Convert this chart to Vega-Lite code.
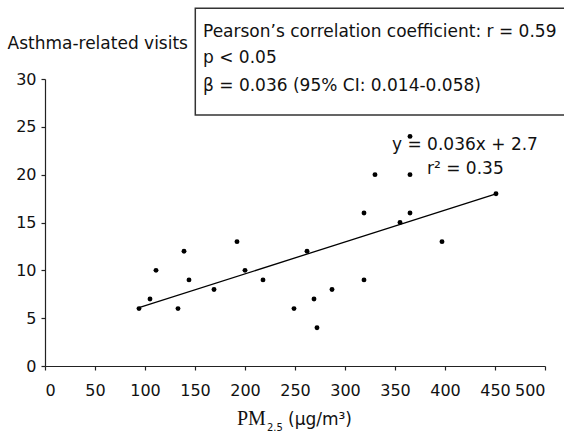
{
  "$schema": "https://vega.github.io/schema/vega-lite/v6.json",
  "width": 500,
  "height": 287,
  "autosize": {"type": "none"},
  "padding": {"left": 45, "top": 79, "right": 19, "bottom": 66},
  "background": "white",
  "config": {
    "view": {"stroke": null},
    "font": "DejaVu Sans",
    "axis": {"grid": false, "domainColor": "#222", "tickColor": "#222", "labelColor": "#111", "labelFont": "DejaVu Sans", "labelFontSize": 16, "tickSize": 4, "domainWidth": 1.2, "tickWidth": 1.2}
  },
  "datasets": {
    "points": [
      {"x": 94, "y": 6}, {"x": 105, "y": 7}, {"x": 111, "y": 10}, {"x": 133, "y": 6},
      {"x": 139, "y": 12}, {"x": 144, "y": 9}, {"x": 169, "y": 8}, {"x": 192, "y": 13},
      {"x": 200, "y": 10}, {"x": 218, "y": 9}, {"x": 249, "y": 6}, {"x": 262, "y": 12},
      {"x": 269, "y": 7}, {"x": 272, "y": 4}, {"x": 287, "y": 8}, {"x": 319, "y": 9},
      {"x": 319, "y": 16}, {"x": 330, "y": 20}, {"x": 355, "y": 15}, {"x": 365, "y": 16},
      {"x": 365, "y": 20}, {"x": 365, "y": 24}, {"x": 397, "y": 13}, {"x": 451, "y": 18}
    ],
    "fit": [{"x": 94, "y": 6.1}, {"x": 451, "y": 18}],
    "box": [{"x": 150.3, "x2": 520, "y": 26.25, "y2": 37.4}],
    "boxtext": [
      {"x": 158, "y": 34.36, "label": "Pearson’s correlation coefficient: r = 0.59"},
      {"x": 158, "y": 31.64, "label": "p < 0.05"},
      {"x": 158, "y": 28.78, "label": "β = 0.036 (95% CI: 0.014-0.058)"}
    ],
    "eq": [
      {"x": 347, "y": 22.58, "label": "y = 0.036x + 2.7"},
      {"x": 382, "y": 20.07, "label": "r² = 0.35"}
    ],
    "xt_serif": [{"x": 192, "y": -6.17, "label": "PM"}],
    "xt_sub": [{"x": 222, "y": -6.75, "label": "2.5"}],
    "xt_unit": [{"x": 243, "y": -6.17, "label": "(μg/m³)"}]
  },
  "layer": [
    {
      "data": {"name": "points"},
      "mark": {"type": "circle", "size": 24, "color": "black", "opacity": 1},
      "encoding": {
        "x": {"field": "x", "type": "quantitative", "scale": {"domain": [0, 500], "nice": false},
              "axis": {"values": [0, 50, 100, 150, 200, 250, 300, 350, 400, 450, 500], "title": null, "labelPadding": 12}},
        "y": {"field": "y", "type": "quantitative", "scale": {"domain": [0, 30], "nice": false},
              "axis": {"values": [0, 5, 10, 15, 20, 25, 30], "title": "Asthma-related visits", "titleAngle": 0, "titleAlign": "left", "titleBaseline": "alphabetic", "titleX": -38, "titleY": -31, "titleFont": "DejaVu Sans", "titleFontSize": 17, "titleFontWeight": "normal", "titleColor": "#111", "labelPadding": 5}}
      }
    },
    {
      "data": {"name": "fit"},
      "mark": {"type": "line", "color": "black", "strokeWidth": 1.3},
      "encoding": {"x": {"field": "x", "type": "quantitative"}, "y": {"field": "y", "type": "quantitative"}}
    },
    {
      "data": {"name": "box"},
      "mark": {"type": "rect", "fill": null, "stroke": "#333", "strokeWidth": 1.5},
      "encoding": {"x": {"field": "x", "type": "quantitative"}, "x2": {"field": "x2"}, "y": {"field": "y", "type": "quantitative"}, "y2": {"field": "y2"}}
    },
    {
      "data": {"name": "boxtext"},
      "mark": {"type": "text", "align": "left", "baseline": "alphabetic", "fontSize": 17, "color": "#111"},
      "encoding": {"x": {"field": "x", "type": "quantitative"}, "y": {"field": "y", "type": "quantitative"}, "text": {"field": "label"}}
    },
    {
      "data": {"name": "eq"},
      "mark": {"type": "text", "align": "left", "baseline": "alphabetic", "fontSize": 17, "color": "#111"},
      "encoding": {"x": {"field": "x", "type": "quantitative"}, "y": {"field": "y", "type": "quantitative"}, "text": {"field": "label"}}
    },
    {
      "data": {"name": "xt_serif"},
      "mark": {"type": "text", "align": "left", "baseline": "alphabetic", "fontSize": 20, "font": "Liberation Serif", "color": "#111"},
      "encoding": {"x": {"field": "x", "type": "quantitative"}, "y": {"field": "y", "type": "quantitative"}, "text": {"field": "label"}}
    },
    {
      "data": {"name": "xt_sub"},
      "mark": {"type": "text", "align": "left", "baseline": "alphabetic", "fontSize": 10, "color": "#111"},
      "encoding": {"x": {"field": "x", "type": "quantitative"}, "y": {"field": "y", "type": "quantitative"}, "text": {"field": "label"}}
    },
    {
      "data": {"name": "xt_unit"},
      "mark": {"type": "text", "align": "left", "baseline": "alphabetic", "fontSize": 17, "color": "#111"},
      "encoding": {"x": {"field": "x", "type": "quantitative"}, "y": {"field": "y", "type": "quantitative"}, "text": {"field": "label"}}
    }
  ]
}
